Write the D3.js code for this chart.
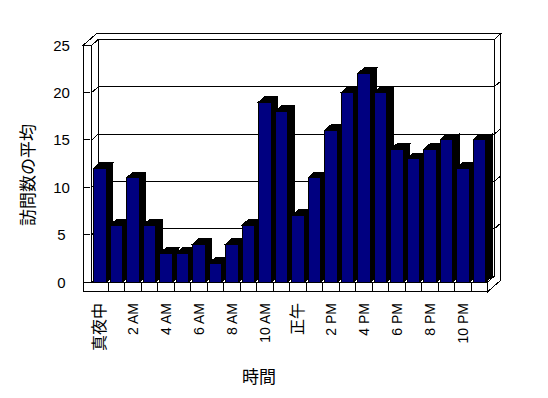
<!DOCTYPE html>
<html>
<head>
<meta charset="utf-8">
<script src="https://cdn.jsdelivr.net/npm/d3@7/dist/d3.min.js"></script>
<style>
  body { margin: 0; background: #fff; }
  text { font-family: "Liberation Sans", "Noto Sans CJK JP", sans-serif; fill: #000; }
</style>
</head>
<body>
<div id="chart"></div>
<script>
// hourly categories (only every other one gets a label)
const hours = ["真夜中", "1 AM", "2 AM", "3 AM", "4 AM", "5 AM", "6 AM", "7 AM", "8 AM", "9 AM", "10 AM", "11 AM",
    "正午", "1 PM", "2 PM", "3 PM", "4 PM", "5 PM", "6 PM", "7 PM", "8 PM", "9 PM", "10 PM", "11 PM"];
const visits = [12, 6, 11, 6, 3, 3, 4, 2, 4, 6, 19, 18, 7, 11, 16, 20, 22, 20, 14, 13, 14, 15, 12, 15];
const yTicks = [0, 5, 10, 15, 20, 25];
const shownHours = hours.filter((d, i) => i % 2 === 0);

const width = 548, height = 398;
const svg = d3.select("#chart").append("svg")
    .attr("width", width)
    .attr("height", height)
    .style("display", "block");

// front plane of the plot
const x0 = 91.7, x1 = 487.7;
const x = d3.scaleBand().domain(hours).range([x0, x1])
    .paddingInner(0.23).paddingOuter(0.115);
const y = d3.scaleLinear().domain([0, 25]).range([282, 45.2]);

// depth shift (3d look), wall and floor thickness
const dx = 6.6, dy = -5.8;
const wallT = 8.4, floorT = 9.7;
const y0 = y(0), yTop = y(25);

const pts = p => p.map(q => q.join(",")).join(" ");
const g = svg.append("g").attr("shape-rendering", "crispEdges");

// back wall face
g.append("rect")
    .attr("x", x0 + dx).attr("y", yTop + dy)
    .attr("width", x1 - x0).attr("height", y0 - yTop)
    .attr("fill", "#fff").attr("stroke", "#000");

// left wall inner face
g.append("polygon")
    .attr("points", pts([[x0, yTop], [x0 + dx, yTop + dy], [x0 + dx, y0 + dy], [x0, y0]]))
    .attr("fill", "#fff").attr("stroke", "#000");

// floor top
g.append("polygon")
    .attr("points", pts([[x0, y0], [x1, y0], [x1 + dx, y0 + dy], [x0 + dx, y0 + dy]]))
    .attr("fill", "#fff").attr("stroke", "#000");

// gridlines on back wall, left wall and right edge of back wall
const grid = yTicks.filter(d => d > 0);
g.selectAll(".grid-back").data(grid).enter().append("line")
    .attr("x1", x0 + dx).attr("x2", x1 + dx)
    .attr("y1", d => y(d) + dy).attr("y2", d => y(d) + dy)
    .attr("stroke", "#000");
g.selectAll(".grid-left").data(grid).enter().append("line")
    .attr("x1", x0).attr("y1", d => y(d))
    .attr("x2", x0 + dx).attr("y2", d => y(d) + dy)
    .attr("stroke", "#000");

// bars, drawn left to right so right neighbours cover the sides
const bw = x.bandwidth();
const bars = g.selectAll(".bar").data(visits).enter().append("g").attr("class", "bar");
bars.append("polygon")
    .attr("points", (d, i) => {
        const xr = x(hours[i]) + bw, yt = y(d);
        return pts([[xr, yt], [xr + dx, yt + dy], [xr + dx, y0 + dy], [xr, y0]]);
    })
    .attr("fill", "#000").attr("stroke", "#000");
bars.append("polygon")
    .attr("points", (d, i) => {
        const xl = x(hours[i]), yt = y(d);
        return pts([[xl, yt], [xl + bw, yt], [xl + bw + dx, yt + dy], [xl + dx, yt + dy]]);
    })
    .attr("fill", "#000").attr("stroke", "#000");
bars.append("rect")
    .attr("x", (d, i) => x(hours[i]))
    .attr("y", d => y(d))
    .attr("width", bw)
    .attr("height", d => y0 - y(d))
    .attr("fill", "#000080").attr("stroke", "#000");

// floor front face with category dividers
g.append("rect")
    .attr("x", x0 - wallT).attr("y", y0)
    .attr("width", x1 - x0 + wallT).attr("height", floorT)
    .attr("fill", "#fff").attr("stroke", "#000");
g.selectAll(".divider").data(hours.slice(1)).enter().append("line")
    .attr("x1", d => x(d) - x.step() * x.paddingInner() / 2)
    .attr("x2", d => x(d) - x.step() * x.paddingInner() / 2)
    .attr("y1", y0).attr("y2", y0 + floorT)
    .attr("stroke", "#000");

// left wall front face
g.append("rect")
    .attr("x", x0 - wallT).attr("y", yTop)
    .attr("width", wallT).attr("height", y0 - yTop)
    .attr("fill", "#fff").attr("stroke", "#000");

// top of left wall + back wall
g.append("polygon")
    .attr("points", pts([[x0 - wallT, yTop], [x0, yTop], [x0 + dx, yTop + dy], [x1 + dx, yTop + dy],
        [x1 + 2 * dx, yTop + 2 * dy], [x0 - wallT + 2 * dx, yTop + 2 * dy]]))
    .attr("fill", "#fff").attr("stroke", "#000");

// right side of back wall + floor
g.append("polygon")
    .attr("points", pts([[x1 + dx, yTop + dy], [x1 + 2 * dx, yTop + 2 * dy], [x1 + 2 * dx, y0 + floorT + 2 * dy],
        [x1, y0 + floorT], [x1, y0], [x1 + dx, y0 + dy]]))
    .attr("fill", "#fff").attr("stroke", "#000");
g.selectAll(".grid-right").data(grid).enter().append("line")
    .attr("x1", x1 + dx).attr("y1", d => y(d) + dy)
    .attr("x2", x1 + 2 * dx).attr("y2", d => y(d) + 2 * dy)
    .attr("stroke", "#000");

// value ticks
g.selectAll(".ytick").data(yTicks).enter().append("line")
    .attr("x1", x0 - wallT).attr("x2", x0 - 1.7)
    .attr("y1", d => y(d)).attr("y2", d => y(d))
    .attr("stroke", "#000");

// labels
svg.selectAll(".ylab").data(yTicks).enter().append("text")
    .attr("x", 61.5).attr("y", d => y(d))
    .attr("text-anchor", "middle")
    .attr("dominant-baseline", "central")
    .style("font-size", "15px")
    .text(d => d);

svg.selectAll(".xlab").data(shownHours).enter().append("text")
    .attr("transform", d => "translate(" + (x(d) + bw / 2 + 5) + ",303) rotate(-90)")
    .attr("text-anchor", "end")
    .style("font-size", d => /[A-Z0-9]/.test(d) ? "14px" : "16px")
    .text(d => d);

svg.append("text")
    .attr("transform", "translate(28,175) rotate(-90)")
    .attr("text-anchor", "middle")
    .attr("dominant-baseline", "central")
    .style("font-size", "17px")
    .text("訪問数の平均");

svg.append("text")
    .attr("x", 259).attr("y", 377.5)
    .attr("text-anchor", "middle")
    .attr("dominant-baseline", "central")
    .style("font-size", "17px")
    .text("時間");
</script>
</body>
</html>
